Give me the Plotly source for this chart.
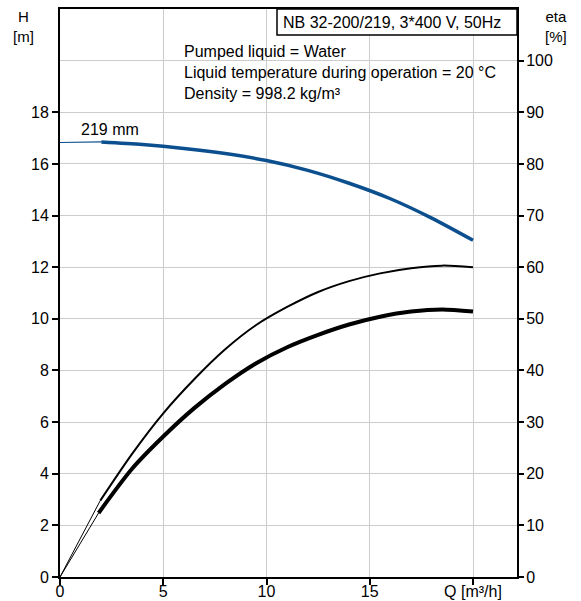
import plotly.graph_objects as go

# ---- data ----
q_head = [2, 4, 6, 8, 10, 12, 14, 16, 18, 20]
head = [16.85, 16.75, 16.6, 16.4, 16.13, 15.75, 15.25, 14.65, 13.9, 13.04]
q_head_start = [0, 2]
head_start = [16.83, 16.85]

q_eta_p = [1.95, 3.5, 5.0, 6.5, 8.0, 9.5, 11.0, 12.5, 14.0, 15.5, 17.0, 18.5, 20.0]
eta_p = [14.8, 23.9, 31.7, 38.3, 44.1, 48.8, 52.3, 55.2, 57.3, 58.8, 59.8, 60.3, 60.0]
q_eta_p_start = [0, 1.95]
eta_p_start = [0, 14.8]

q_eta_t = [1.87, 3.5, 5.0, 6.5, 8.0, 9.5, 11.0, 12.5, 14.0, 15.5, 17.0, 18.5, 20.0]
eta_t = [12.4, 21.0, 27.2, 32.7, 37.4, 41.4, 44.5, 46.9, 48.9, 50.4, 51.4, 51.8, 51.4]
q_eta_t_start = [0, 1.87]
eta_t_start = [0, 12.4]

h_ticks = [0, 2, 4, 6, 8, 10, 12, 14, 16, 18]
eta_ticks = [0, 10, 20, 30, 40, 50, 60, 70, 80, 90, 100]
q_ticks = [0, 5, 10, 15, 20]
q_tick_text = ["0", "5", "10", "15", "Q [m³/h]"]

title_text = "NB 32-200/219, 3*400 V, 50Hz"
info_text = "Pumped liquid = Water<br>Liquid temperature during operation = 20 °C<br>Density = 998.2 kg/m³"
curve_label = "219 mm"

# ---- layout geometry ----
W, H = 581, 601
ML, MR, MT, MB = 60, 64, 9, 24
PW, PH = W - ML - MR, H - MT - MB
def px(x):
    return (x - ML) / PW
def py(y):
    return (H - MB - y) / PH

BLUE = "#0b4f8f"
FONT = "Liberation Sans, Arial, sans-serif"

fig = go.Figure()
fig.add_trace(go.Scatter(x=q_head_start, y=head_start, mode="lines",
                         line=dict(color=BLUE, width=1.2), showlegend=False))
fig.add_trace(go.Scatter(x=q_head, y=head, mode="lines", line_shape="spline",
                         line=dict(color=BLUE, width=3.5, smoothing=0.8), showlegend=False))
fig.add_trace(go.Scatter(x=q_eta_p_start, y=eta_p_start, mode="lines", yaxis="y2",
                         line=dict(color="black", width=1), showlegend=False))
fig.add_trace(go.Scatter(x=q_eta_p, y=eta_p, mode="lines", yaxis="y2", line_shape="spline",
                         line=dict(color="black", width=2, smoothing=0.8), showlegend=False))
fig.add_trace(go.Scatter(x=q_eta_t_start, y=eta_t_start, mode="lines", yaxis="y2",
                         line=dict(color="black", width=1), showlegend=False))
fig.add_trace(go.Scatter(x=q_eta_t, y=eta_t, mode="lines", yaxis="y2", line_shape="spline",
                         line=dict(color="black", width=4, smoothing=0.8), showlegend=False))

axis_common = dict(showline=True, linecolor="black", linewidth=2, ticks="outside",
                   tickcolor="black", tickwidth=2, zeroline=False, automargin=False,
                   tickfont=dict(family=FONT, size=16, color="black"))

fig.update_layout(
    width=W, height=H, autosize=False,
    margin=dict(l=ML, r=MR, t=MT, b=MB),
    plot_bgcolor="white", paper_bgcolor="white",
    font=dict(family=FONT, size=16, color="black"),
    xaxis=dict(range=[0, PW / 20.65], tickvals=q_ticks, ticktext=q_tick_text,
               showgrid=True, gridcolor="#cccccc", gridwidth=1.3, ticklen=6,
               ticklabelstandoff=-7, mirror=True, **axis_common),
    yaxis=dict(range=[0, 22], tickvals=h_ticks, showgrid=False, ticklen=6, **axis_common),
    yaxis2=dict(range=[0, 110], tickvals=eta_ticks, overlaying="y", side="right",
                showgrid=True, gridcolor="#cccccc", gridwidth=1.3, ticklen=5,
                ticklabelstandoff=-1, **axis_common),
    shapes=[
        dict(type="rect", xref="paper", yref="paper", x0=px(178), x1=1, y0=py(101), y1=py(41),
             fillcolor="white", line=dict(width=0), layer="between"),
        dict(type="rect", xref="paper", yref="paper", x0=px(277), x1=1, y0=py(35), y1=1,
             fillcolor="white", line=dict(color="black", width=1.5), layer="above"),
    ],
    annotations=[
        dict(text=title_text, xref="paper", yref="paper", x=px(281), y=py(22),
             xanchor="left", yanchor="middle", showarrow=False, font=dict(size=16)),
        dict(text=info_text, xref="paper", yref="paper", x=px(182), y=py(41),
             xanchor="left", yanchor="top", align="left", showarrow=False, font=dict(size=16)),
        dict(text=curve_label, x=2.44, y=17.33, xref="x", yref="y",
             xanchor="center", yanchor="middle", showarrow=False, font=dict(size=16)),
        dict(text="H<br>[m]", xref="paper", yref="paper", x=px(23), y=py(6),
             xanchor="center", yanchor="top", showarrow=False, font=dict(size=15)),
        dict(text="eta<br>[%]", xref="paper", yref="paper", x=px(556), y=py(6),
             xanchor="center", yanchor="top", showarrow=False, font=dict(size=15)),
    ],
)

fig.write_html("out.html", config={"displayModeBar": False},
               post_script="document.body.style.margin='0';")
